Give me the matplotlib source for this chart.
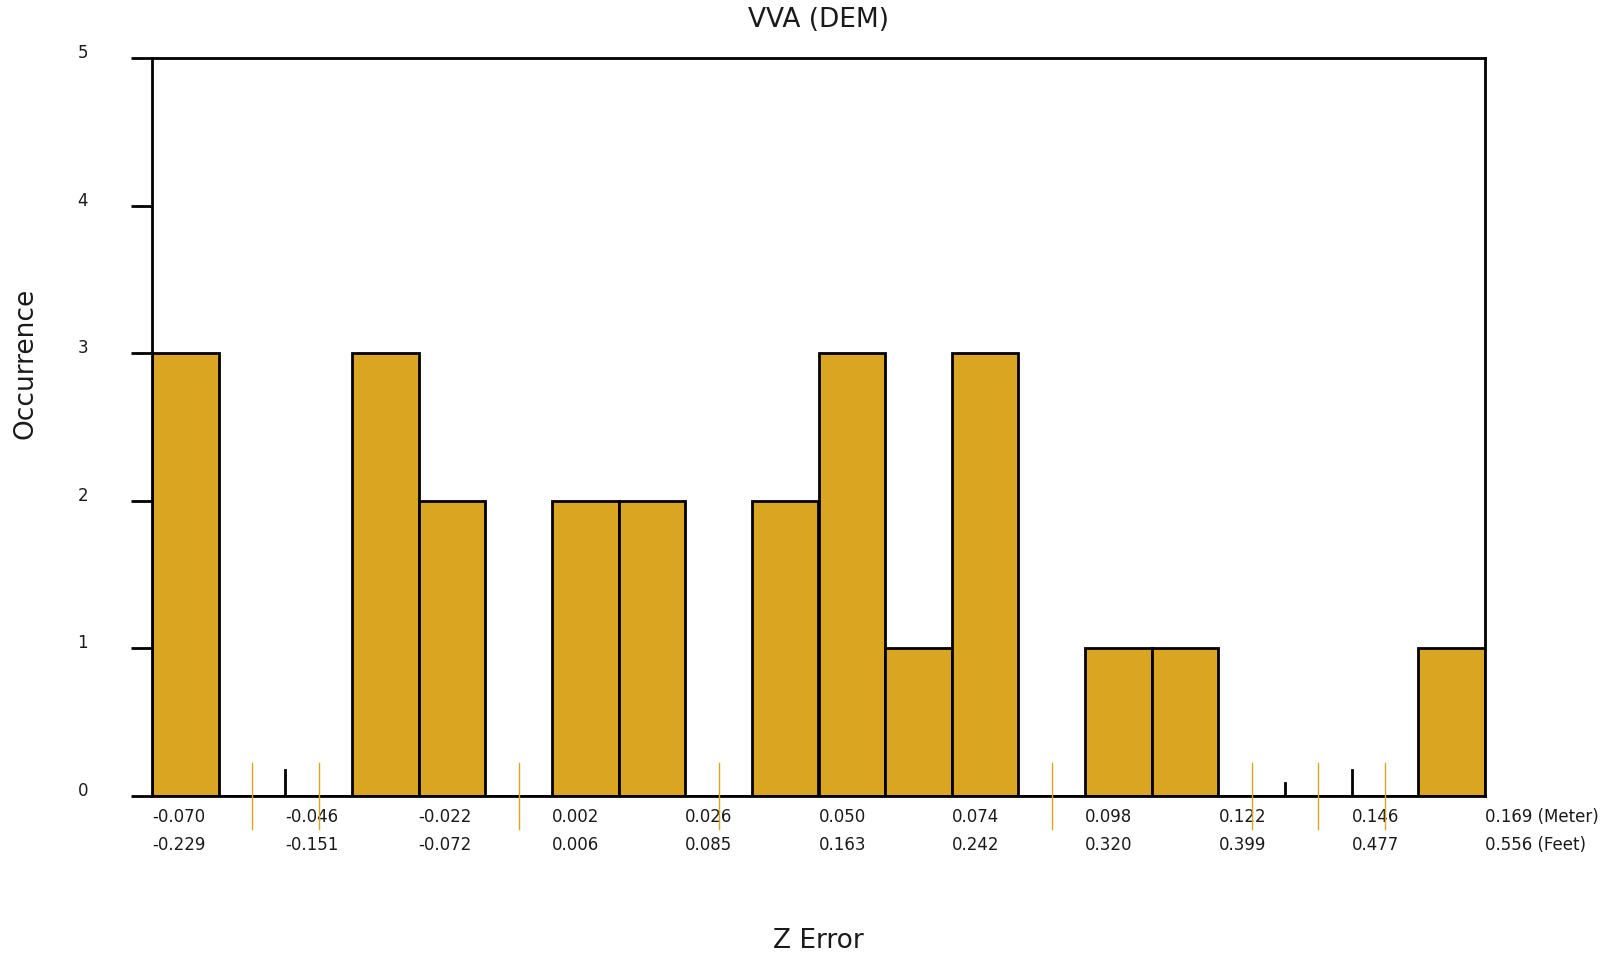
import numpy as np
import matplotlib
matplotlib.use("Agg")
import matplotlib.pyplot as plt
from matplotlib.transforms import ScaledTranslation

# ---- data ----
BIN_MIN = -0.070
BIN_MAX = 0.169
COUNTS = [3, 0, 0, 3, 2, 0, 2, 2, 0, 2, 3, 1, 3, 0, 1, 1, 0, 0, 0, 1]
METER_LABELS = ["-0.070", "-0.046", "-0.022", "0.002", "0.026", "0.050",
                "0.074", "0.098", "0.122", "0.146", "0.169 (Meter)"]
FEET_LABELS = ["-0.229", "-0.151", "-0.072", "0.006", "0.085", "0.163",
               "0.242", "0.320", "0.399", "0.477", "0.556 (Feet)"]
# little black stubs on some empty bin edges (edge index, height)
STUB_EDGES = [2, 17, 18]
STUB_HEIGHTS = [0.176, 0.088, 0.176]

BAR_COLOR = "#DAA520"
TEXT_COLOR = "#1a1a1a"

edges = np.linspace(BIN_MIN, BIN_MAX, len(COUNTS) + 1)
width = edges[1] - edges[0]

fig = plt.figure(figsize=(16.06, 9.57), dpi=100)
ax = fig.add_axes([152 / 1606, 1 - 796 / 957, (1485 - 152) / 1606, (796 - 58) / 957])

ax.bar(edges[:-1], COUNTS, width=width, align="edge", color=BAR_COLOR,
       edgecolor="black", linewidth=2, zorder=2)

# orange marks at the centre of empty bins
for i, c in enumerate(COUNTS):
    if c == 0:
        ax.plot([edges[i] + width / 2] * 2, [-0.224, 0.224], color=BAR_COLOR,
                linewidth=1, clip_on=False, zorder=5)

for e, h in zip(STUB_EDGES, STUB_HEIGHTS):
    ax.plot([edges[e]] * 2, [0, h], color="black", linewidth=2, zorder=3)

ax.set_xlim(edges[0], edges[-1])
ax.set_ylim(0, 5)

for s in ax.spines.values():
    s.set_linewidth(2)
    s.set_color("black")

ax.set_xticks([])
ax.set_yticks(range(6))
ax.tick_params(axis="y", direction="out", length=15, width=2, pad=31,
               labelsize=12, labelcolor=TEXT_COLOR)
for lab in ax.get_yticklabels():
    lab.set_transform(lab.get_transform() + ScaledTranslation(0, 5 / 72, fig.dpi_scale_trans))

# two rows of x labels (meter / feet), left-aligned on every second bin edge
for k, (m, f) in enumerate(zip(METER_LABELS, FEET_LABELS)):
    x = edges[2 * k]
    ax.annotate(m, xy=(x, 0), xycoords=("data", "axes fraction"),
                xytext=(0, -21), textcoords="offset pixels",
                ha="left", va="center", fontsize=12, color=TEXT_COLOR)
    ax.annotate(f, xy=(x, 0), xycoords=("data", "axes fraction"),
                xytext=(0, -49), textcoords="offset pixels",
                ha="left", va="center", fontsize=12, color=TEXT_COLOR)

fig.text(818 / 1606, 1 - 20 / 957, "VVA (DEM)", ha="center", va="center",
         fontsize=19, color=TEXT_COLOR)
fig.text(818 / 1606, 1 - 941 / 957, "Z Error", ha="center", va="center",
         fontsize=19, color=TEXT_COLOR)
fig.text(26 / 1606, 1 - 363 / 957, "Occurrence", ha="center", va="center",
         rotation=90, fontsize=19, color=TEXT_COLOR)

fig.savefig("out.png", dpi=100)
